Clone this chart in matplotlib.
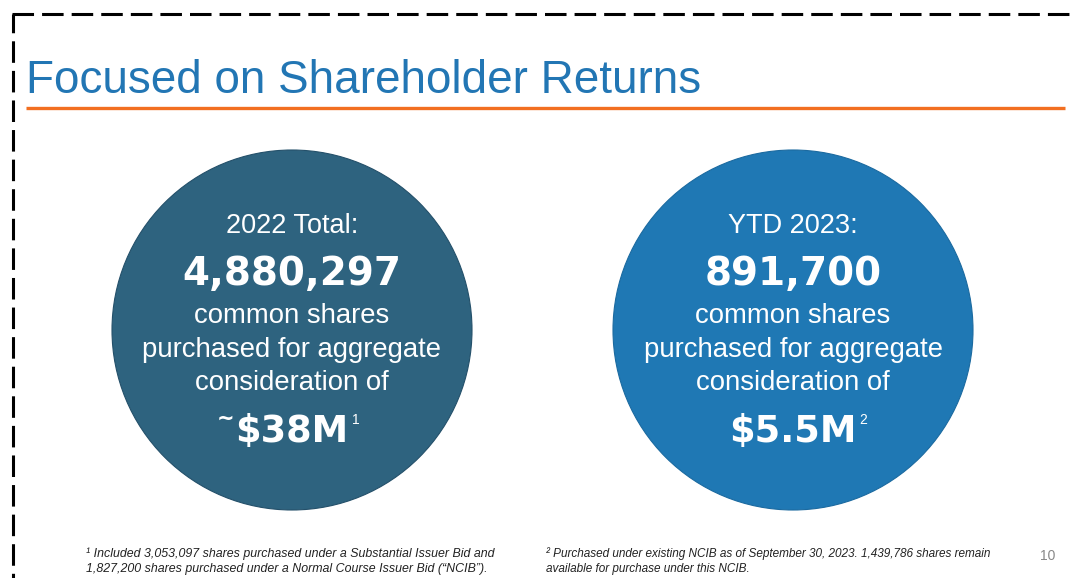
import matplotlib
matplotlib.use("Agg")
import matplotlib.pyplot as plt
from matplotlib.patches import Circle

# ---- data ----
title = "Focused on Shareholder Returns"
period_labels = ["2022 Total:", "YTD 2023:"]
share_counts = ["4,880,297", "891,700"]
body_lines = ["common shares", "purchased for aggregate", "consideration of"]
amounts = ["$38M", "$5.5M"]
amount_prefix = ["~", ""]
amount_notes = ["1", "2"]
circle_colors = ["#2E637F", "#1F78B4"]
footnote_left = [
    "\u00b9 Included 3,053,097 shares purchased under a Substantial Issuer Bid and",
    "1,827,200 shares purchased under a Normal Course Issuer Bid (\u201cNCIB\u201d).",
]
footnote_right = [
    "\u00b2 Purchased under existing NCIB as of September 30, 2023. 1,439,786 shares remain",
    "available for purchase under this NCIB.",
]
page_number = "10"

# ---- layout ----
W, H = 1073, 578
plt.rcParams['lines.scale_dashes'] = False
fig = plt.figure(figsize=(W / 100, H / 100), dpi=100)
ax = fig.add_axes([0, 0, 1, 1])
ax.set_xlim(0, W)
ax.set_ylim(H, 0)
ax.axis('off')

# dashed border
dash = (0, (15.5, 5.8))
ax.plot([12, W + 20], [14, 14], color='black', lw=2.2, linestyle=dash, solid_capstyle='butt')
ax.plot([13, 13], [14, H + 20], color='black', lw=2.2, linestyle=(2, (15.5, 5.8)))

# title and rule
ax.text(26, 93, title, fontsize=33, family='Liberation Sans', color='#2276B4',
        va='baseline', ha='left')
ax.plot([26, 1065], [107.5, 107.5], color='#F26F21', lw=2.4, solid_capstyle='butt')

centers_x = [292, 793]
cy = 330
R = 180
fig.canvas.draw()
renderer = fig.canvas.get_renderer()
inv = ax.transData.inverted()

for i, cx in enumerate(centers_x):
    ax.add_patch(Circle((cx, cy), R, facecolor=circle_colors[i],
                        edgecolor='#24506A' if i == 0 else '#1B6AA0', lw=0.8))
    ax.text(cx, 233, period_labels[i], fontsize=19.5, family='Liberation Sans',
            color='white', ha='center', va='baseline')
    ax.text(cx, 285, share_counts[i], fontsize=28, family='DejaVu Sans', weight='bold',
            color='white', ha='center', va='baseline')
    for txt, yb in zip(body_lines, [323, 357, 390]):
        ax.text(cx, yb, txt, fontsize=19.8, family='Liberation Sans',
                color='white', ha='center', va='baseline')
    t = ax.text(cx, 442, amounts[i], fontsize=26.5, family='DejaVu Sans', weight='bold',
                color='white', ha='center', va='baseline', parse_math=False)
    bb = t.get_window_extent(renderer)
    (x0, _), (x1, _) = inv.transform([(bb.x0, bb.y0), (bb.x1, bb.y1)])
    ax.text(x1 + 3, 424, amount_notes[i], fontsize=10, family='Liberation Sans',
            color='white', ha='left', va='baseline')
    if amount_prefix[i]:
        ax.text(x0 - 1, 419, amount_prefix[i], fontsize=15, family='DejaVu Sans',
                weight='bold', color='white', ha='right', va='center')

# footnotes
for k, line in enumerate(footnote_left):
    ax.text(86, 557 + 15 * k, line, fontsize=8.9, family='Liberation Sans', style='italic',
            color='#222222', ha='left', va='baseline')
for k, line in enumerate(footnote_right):
    ax.text(546, 557 + 15 * k, line, fontsize=8.5, family='Liberation Sans', style='italic',
            color='#222222', ha='left', va='baseline')
ax.text(1048, 560, page_number, fontsize=10, family='Liberation Sans', color='#888888',
        ha='center', va='baseline')

fig.savefig("out.png", dpi=100)
